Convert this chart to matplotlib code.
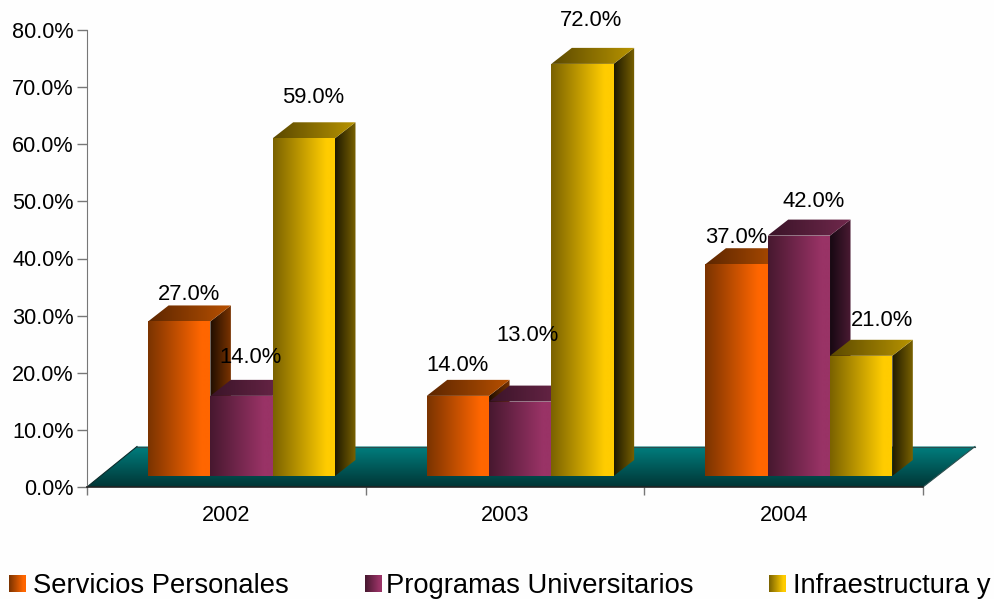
import numpy as np
import matplotlib
matplotlib.use("Agg")
import matplotlib.pyplot as plt
from matplotlib.colors import LinearSegmentedColormap as LSC
from matplotlib.patches import Polygon

plt.rcParams['font.family'] = ['Liberation Sans', 'DejaVu Sans']

years = ['2002', '2003', '2004']
series_names = ['Servicios Personales', 'Programas Universitarios', 'Infraestructura y']
servicios = [27.0, 14.0, 37.0]
programas = [14.0, 13.0, 42.0]
infraestructura = [59.0, 72.0, 21.0]
y_ticks = [0, 10, 20, 30, 40, 50, 60, 70, 80]

W, H = 994, 599
L, R, B, T = 87, 923, 487, 30
fig = plt.figure(figsize=(W / 100, H / 100), dpi=100, facecolor='#fefefe')
ax = fig.add_axes([L / W, 1 - B / H, (R - L) / W, (B - T) / H], facecolor='none')
px_x = 3 / (R - L)
px_y = 80 / (B - T)

def shade(poly, x0, x1, y0, y1, stops, horizontal=True, z=2):
    grad = np.linspace(0, 1, 256)
    grad = grad[None, :] if horizontal else grad[:, None]
    cmap = LSC.from_list('g', stops)
    im = ax.imshow(grad, extent=[x0, x1, y0, y1], origin='lower', cmap=cmap, aspect='auto',
                   zorder=z, interpolation='bilinear')
    p = Polygon(poly, closed=True, transform=ax.transData, fc='none', ec='none')
    im.set_clip_box(fig.bbox)
    im.set_clip_path(p)

# floor
fdx, fdy = 50 * px_x, 40.5 * px_y
shade([(0, 0), (3, 0), (3 + 52 * px_x, fdy), (fdx, fdy)], 0, 3 + 52 * px_x, 0, fdy,
      ['#003535', '#007f7f'], horizontal=False, z=1)
ax.plot([fdx, 3 + 52 * px_x], [fdy, fdy], color='#2b4f4f', lw=0.8, zorder=1.1, clip_on=False)
ax.plot([0, fdx], [0, fdy], color='#0a2a2a', lw=0.8, zorder=1.1, clip_on=False)
ax.plot([3, 3 + 52 * px_x], [0, fdy], color='#2b4f4f', lw=0.8, zorder=1.1, clip_on=False)

front_pos = [0.0, 0.85, 1.0]
styles = [
    dict(front=['#7a3300', '#ff6600', '#ff6600'], top=['#5c2600', '#b85000'], side=['#1e0d00', '#7a3300']),
    dict(front=['#47182f', '#993366', '#993366'], top=['#3a1428', '#70284c'], side=['#170812', '#4a1a33']),
    dict(front=['#7a6200', '#ffcc00', '#ffcc00'], top=['#5a4800', '#b89400'], side=['#1e1900', '#7a6200']),
]
all_values = [servicios, programas, infraestructura]

base = 11 * px_y
bar_w = 62.3 * px_x
gdx, gdy = 20.5 * px_x, 16 * px_y
group_shift = 15.2 * px_x
bar_scale = 1.002

for i in range(3):
    center = i + 0.5 + group_shift
    for s, vals in enumerate(all_values):
        v = vals[i]
        x0 = center + (s - 1.5) * bar_w
        x1 = x0 + bar_w
        top = base + v * bar_scale
        st = styles[s]
        shade([(x1, base), (x1 + gdx, base + gdy), (x1 + gdx, top + gdy), (x1, top)],
              x1, x1 + gdx, 0, 80, st['side'], z=3 + i + s * 0.1)
        shade([(x0, top), (x1, top), (x1 + gdx, top + gdy), (x0 + gdx, top + gdy)],
              x0, x1 + gdx, 0, 80, st['top'], z=3 + i + s * 0.1)
        shade([(x0, base), (x1, base), (x1, top), (x0, top)],
              x0, x1, 0, 80, list(zip(front_pos, st['front'])), z=3 + i + s * 0.1)

# data labels: offsets in pixels from the front-top of each bar
offsets = [
    [(10, 27), (9, 38), (9, 41)],
    [(0, 30), (7, 66), (9, 43)],
    [(0, 27), (15, 34), (21, 35)],
]
for i in range(3):
    center = i + 0.5 + group_shift
    for s, vals in enumerate(all_values):
        v = vals[i]
        bx = center + (s - 1) * bar_w
        top = base + v * bar_scale
        ox, oy = offsets[i][s]
        ax.annotate(f'{v:.1f}%', (bx, top), xytext=(ox * 0.72, oy * 0.72), textcoords='offset points',
                    ha='center', va='center', fontsize=15.8, color='#000000', zorder=20, annotation_clip=False)

ax.set_xlim(0, 3)
ax.set_ylim(0, 80)
ax.set_yticks(y_ticks)
ax.set_yticklabels([f'{t:.1f}%' for t in y_ticks], fontsize=15.6, color='#000000')
ax.set_xticks([0, 1, 2, 3])
ax.set_xticklabels([])
ax.set_xticks([0.5, 1.5, 2.5], minor=True)
ax.set_xticklabels(years, minor=True, fontsize=15.6, color='#000000')
ax.tick_params(axis='x', which='minor', length=0, pad=13)
ax.tick_params(axis='x', which='major', length=6, width=1, color='#777777')
ax.tick_params(axis='y', length=7, width=1, color='#777777', pad=2.5)
for k in ('top', 'right'):
    ax.spines[k].set_visible(False)
ax.spines['left'].set_color('#777777')
ax.spines['bottom'].set_color('#222222')
ax.spines['bottom'].set_linewidth(1.2)

# legend
leg_swatch_x = [9, 365, 769]
leg_text_x = [33, 386, 793]
for s, name in enumerate(series_names):
    lax = fig.add_axes([leg_swatch_x[s] / W, 1 - 592 / H, 17 / W, 17 / H])
    lax.imshow(np.linspace(0, 1, 64)[None, :], cmap=LSC.from_list('l', list(zip(front_pos, styles[s]['front']))), aspect='auto')
    lax.axis('off')
    fig.text(leg_text_x[s] / W, 1 - 586 / H, name, fontsize=19.7, va='center', ha='left', color='#000000')

fig.savefig('out.png', dpi=100, facecolor=fig.get_facecolor())
